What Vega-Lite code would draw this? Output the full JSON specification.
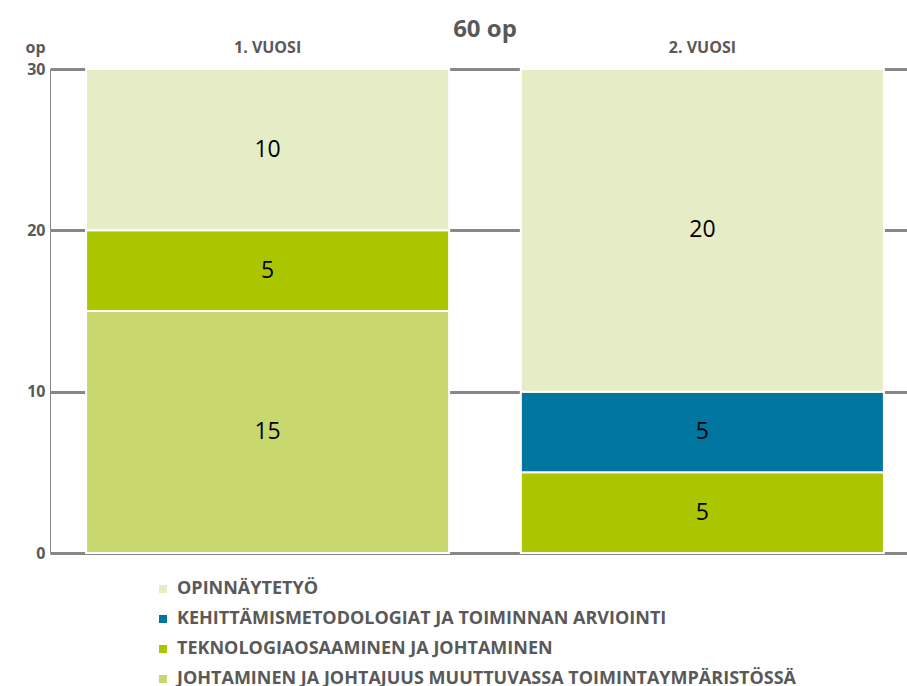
{
  "$schema": "https://vega.github.io/schema/vega-lite/v6.json",
  "autosize": "none",
  "width": 870,
  "height": 484,
  "padding": {"left": 50, "top": 69, "right": 0, "bottom": 133},
  "background": "white",
  "title": {"text": "60 op", "anchor": "middle", "fontSize": 24, "font": "Open Sans", "fontWeight": "bold", "color": "#595959", "offset": -3},
  "data": {"values": [
    {"vuosi": "1. VUOSI", "osa": "JOHTAMINEN JA JOHTAJUUS MUUTTUVASSA TOIMINTAYMPÄRISTÖSSÄ", "op": 15, "ord": 1},
    {"vuosi": "1. VUOSI", "osa": "TEKNOLOGIAOSAAMINEN JA JOHTAMINEN", "op": 5, "ord": 2},
    {"vuosi": "1. VUOSI", "osa": "OPINNÄYTETYÖ", "op": 10, "ord": 4},
    {"vuosi": "2. VUOSI", "osa": "TEKNOLOGIAOSAAMINEN JA JOHTAMINEN", "op": 5, "ord": 2},
    {"vuosi": "2. VUOSI", "osa": "KEHITTÄMISMETODOLOGIAT JA TOIMINNAN ARVIOINTI", "op": 5, "ord": 3},
    {"vuosi": "2. VUOSI", "osa": "OPINNÄYTETYÖ", "op": 20, "ord": 4}
  ]},
  "transform": [
    {"stack": "op", "groupby": ["vuosi"], "sort": [{"field": "ord", "order": "ascending"}], "as": ["y0", "y1"]}
  ],
  "encoding": {
    "x": {"field": "vuosi", "type": "nominal", "sort": null,
      "scale": {"paddingInner": 0.165, "paddingOuter": 0.083},
      "axis": {"orient": "top", "title": null, "labelAngle": 0, "domain": false, "ticks": false, "labelPadding": 14,
        "labelFont": "Open Sans", "labelFontWeight": "bold", "labelFontSize": 16, "labelColor": "#595959"}}
  },
  "layer": [
    {
      "mark": {"type": "bar", "stroke": "white", "strokeWidth": 2},
      "encoding": {
        "y": {"field": "y0", "type": "quantitative",
          "scale": {"domain": [0, 30], "nice": false},
          "axis": {"values": [0, 10, 20, 30], "grid": true, "gridColor": "#878787", "gridWidth": 3, "ticks": false,
            "domain": true, "domainColor": "#878787", "domainWidth": 1,
            "labelFont": "Open Sans", "labelFontWeight": "bold", "labelFontSize": 16, "labelColor": "#595959", "labelPadding": 5,
            "title": "op", "titleAngle": 0, "titleFont": "Open Sans", "titleFontWeight": "bold", "titleFontSize": 16, "titleColor": "#595959",
            "titleAlign": "center", "titleBaseline": "bottom", "titleX": -15, "titleY": -14}},
        "y2": {"field": "y1"},
        "color": {"field": "osa", "type": "nominal",
          "scale": {
            "domain": ["OPINNÄYTETYÖ", "KEHITTÄMISMETODOLOGIAT JA TOIMINNAN ARVIOINTI", "TEKNOLOGIAOSAAMINEN JA JOHTAMINEN", "JOHTAMINEN JA JOHTAJUUS MUUTTUVASSA TOIMINTAYMPÄRISTÖSSÄ"],
            "range": ["#E6EDC6", "#00759F", "#ABC500", "#C8D86F"]},
          "legend": {"orient": "none", "legendX": 104, "legendY": 511, "direction": "vertical", "title": null, "padding": 0,
            "symbolType": "square", "symbolSize": 64, "symbolStrokeWidth": 0,
            "labelFont": "Open Sans", "labelFontWeight": "bold", "labelFontSize": 18, "labelColor": "#595959",
            "rowPadding": 12, "labelOffset": 5, "labelLimit": 800}}
      }
    },
    {
      "transform": [
        {"fold": ["y0", "y1"], "as": ["k", "yv"]},
        {"aggregate": [{"op": "mean", "field": "yv", "as": "ymid"}], "groupby": ["vuosi", "osa", "op"]}
      ],
      "mark": {"type": "text", "font": "Open Sans", "fontSize": 23, "color": "black", "baseline": "middle"},
      "encoding": {
        "y": {"field": "ymid", "type": "quantitative",
          "axis": {"values": [0, 10, 20, 30], "grid": true, "gridColor": "#878787", "gridWidth": 3, "ticks": false,
            "domain": true, "domainColor": "#878787", "domainWidth": 1,
            "labelFont": "Open Sans", "labelFontWeight": "bold", "labelFontSize": 16, "labelColor": "#595959", "labelPadding": 5,
            "title": "op", "titleAngle": 0, "titleFont": "Open Sans", "titleFontWeight": "bold", "titleFontSize": 16, "titleColor": "#595959",
            "titleAlign": "center", "titleBaseline": "bottom", "titleX": -15, "titleY": -14}},
        "text": {"field": "op", "type": "quantitative"}
      }
    }
  ],
  "config": {"view": {"stroke": null}}
}
